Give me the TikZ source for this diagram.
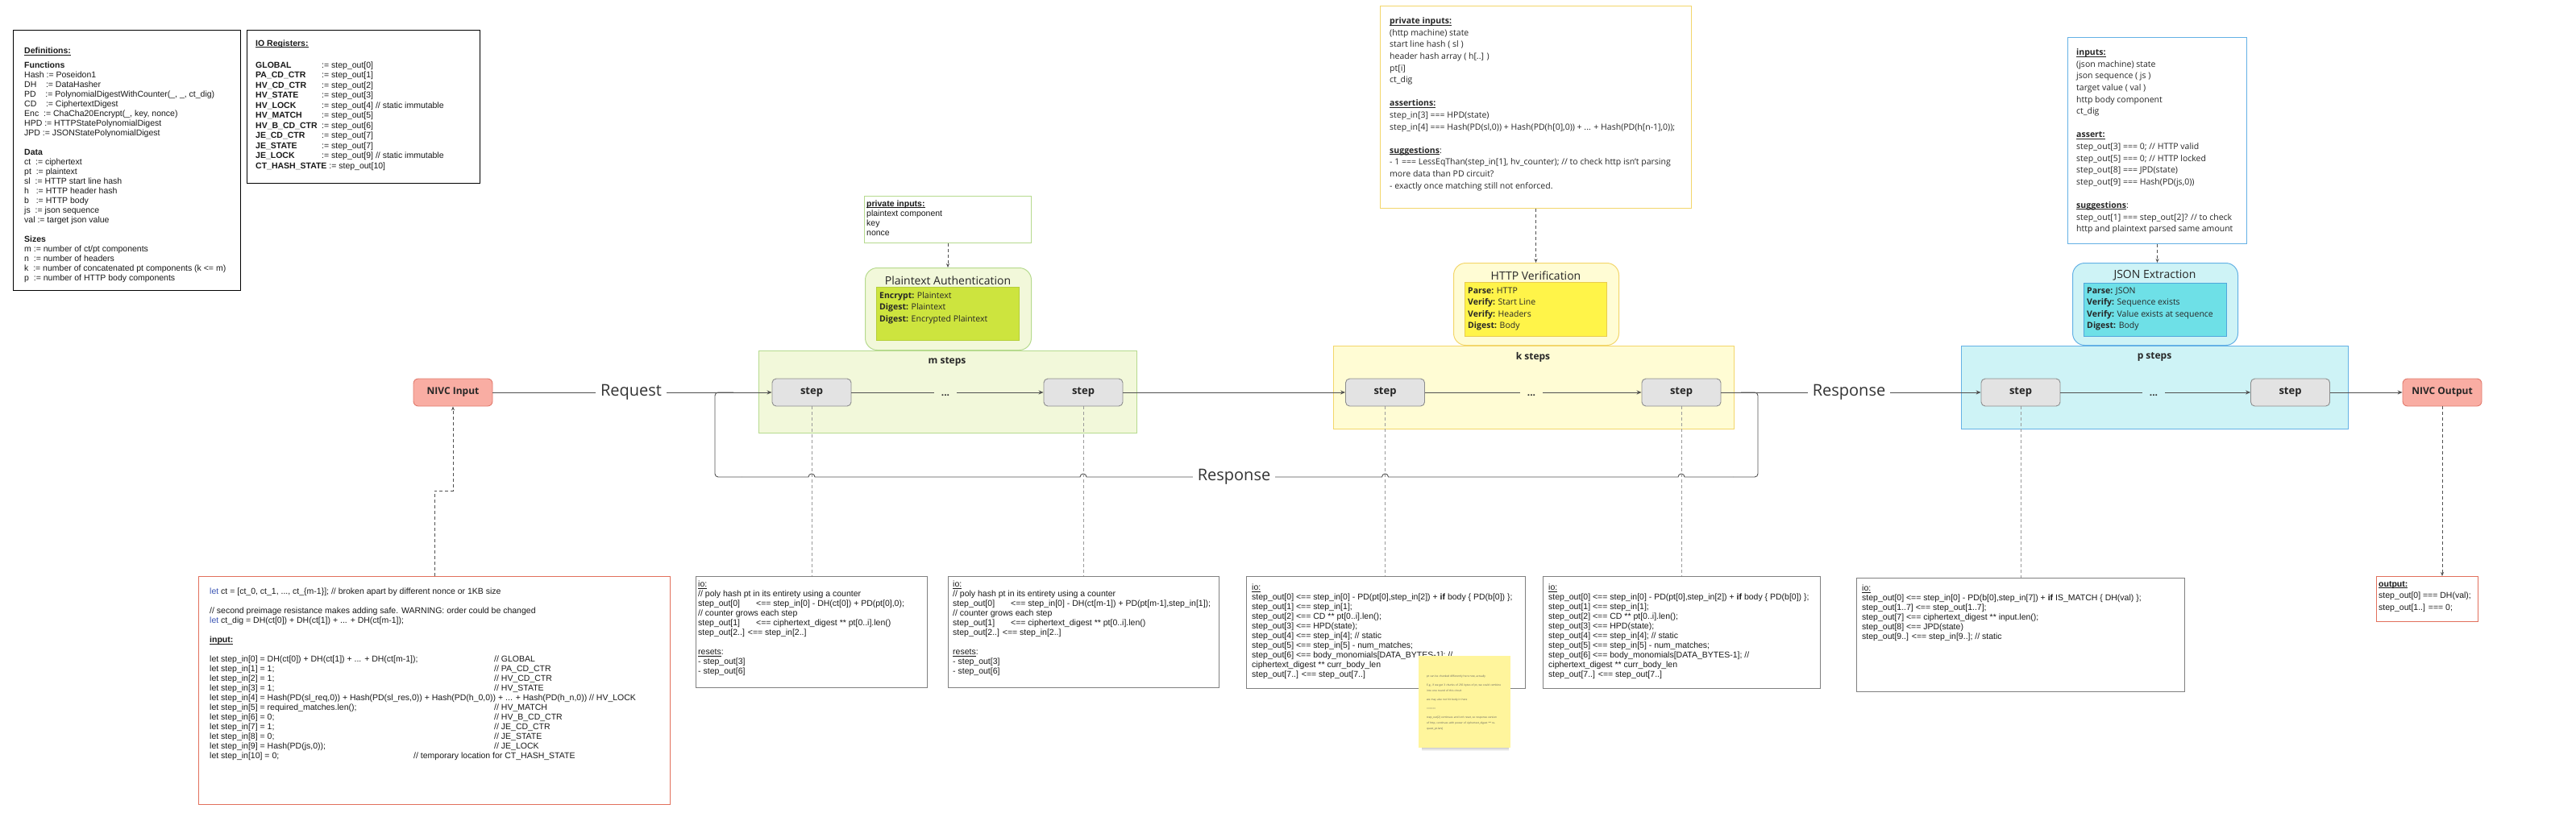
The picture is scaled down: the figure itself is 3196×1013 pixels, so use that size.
\documentclass[tikz,border=0pt]{standalone}
\usepackage{fontspec}
\setmainfont{Open Sans}
\newfontfamily\arialfont{Liberation Sans}
\usetikzlibrary{arrows.meta}

\definecolor{flowgray}{HTML}{505050}
\definecolor{dashgray}{HTML}{9A9A9A}
\definecolor{boxgray}{HTML}{808080}
\definecolor{redline}{HTML}{E2705C}
\definecolor{stepfill}{HTML}{E3E3E3}
\definecolor{stepline}{HTML}{8C8C8C}
\definecolor{nivcfill}{HTML}{F9ADA3}
\definecolor{nivcline}{HTML}{E27A6D}
\definecolor{paregion}{HTML}{F2F8DA}
\definecolor{paline}{HTML}{B6DA8E}
\definecolor{painner}{HTML}{CDE43E}
\definecolor{paedge}{HTML}{B5CF3A}
\definecolor{hvregion}{HTML}{FFFCD4}
\definecolor{hvline}{HTML}{F3D66B}
\definecolor{hvinner}{HTML}{FFF449}
\definecolor{hvedge}{HTML}{E9CC4C}
\definecolor{jeregion}{HTML}{CEF3F6}
\definecolor{jeline}{HTML}{64B1E5}
\definecolor{jeinner}{HTML}{6EE0E7}
\definecolor{jeedge}{HTML}{4FA7DC}
\definecolor{letblue}{HTML}{3B55B5}
\definecolor{notefill}{HTML}{FFF59C}

\newsavebox{\ulinebox}
\newcommand{\ulplain}[1]{\sbox{\ulinebox}{#1}\rlap{\rule[-1.5pt]{\wd\ulinebox}{0.6pt}}\usebox{\ulinebox}}
\newcommand{\uhead}[1]{\ulplain{\textbf{#1}}}
\newcommand{\ioreg}[2]{\makebox[82pt][l]{\textbf{#1}}:= #2}
\newcommand{\regline}[2]{\makebox[353pt][l]{#1}// #2}
\newcommand{\letkw}{\textcolor{letblue}{let}}
\newcommand{\httpio}{\ulplain{io:}\\
step\_out[0] <== step\_in[0] - PD(pt[0],step\_in[2]) + \textbf{if} body \{ PD(b[0]) \};\\
step\_out[1] <== step\_in[1];\\
step\_out[2] <== CD ** pt[0..i].len();\\
step\_out[3] <== HPD(state);\\
step\_out[4] <== step\_in[4]; // static\\
step\_out[5] <== step\_in[5] - num\_matches;\\
step\_out[6] <== body\_monomials[DATA\_BYTES-1]; //\\
ciphertext\_digest ** curr\_body\_len\\
step\_out[7..] <== step\_out[7..]}

\tikzset{
    notebox/.style={draw=#1, fill=white, anchor=north west, inner sep=0pt, line width=1pt},
    regionbox/.style={draw=#1line, fill=#1region, anchor=north west, inner sep=0pt, line width=1pt},
    modulebox/.style={draw=#1line, fill=#1region, anchor=north west, inner sep=0pt, line width=1pt, rounded corners=15pt},
    innerbox/.style={draw=#1edge, fill=#1inner, anchor=north west, inner sep=0pt, line width=0.8pt},
    arialtext/.style={anchor=north west, inner sep=0pt, align=left, text=black!90, font=\arialfont\fontsize{10.5}{12}\selectfont},
    opentext/.style={anchor=north west, inner sep=0pt, align=left, text=black!85, font=\fontsize{10.5}{14.6}\selectfont},
    innertext/.style={anchor=north west, inner sep=0pt, align=left, text=black!85, font=\fontsize{10.5}{14.5}\selectfont},
    moduletitle/.style={inner sep=0pt, text=black!85, font=\fontsize{14}{16}\selectfont},
    regionlabel/.style={inner sep=0pt, text=black!85, font=\bfseries\fontsize{12}{14}\selectfont},
    stepnode/.style={draw=stepline, fill=stepfill, rounded corners=5pt, line width=0.9pt, minimum width=98pt, minimum height=34pt, inner sep=0pt, text=black!85, font=\bfseries\fontsize{13}{15}\selectfont},
    nivcnode/.style={draw=nivcline, fill=nivcfill, rounded corners=6pt, line width=0.9pt, minimum width=98pt, minimum height=34pt, inner sep=0pt, text=black!85, font=\bfseries\fontsize{12}{14}\selectfont},
    flowlabel/.style={inner xsep=6pt, inner ysep=0pt, text=black!80, font=\fontsize{20}{24}\selectfont},
    dotsnode/.style={inner xsep=9pt, inner ysep=0pt, text height=8pt, text depth=0pt, text=black!80, font=\bfseries\fontsize{12}{14}\selectfont},
    flow/.style={draw=flowgray, line width=0.9pt},
    flowarrow/.style={flow, -{Stealth[length=6pt, width=5pt]}},
    dashlink/.style={draw=flowgray, line width=0.8pt, dash pattern=on 4pt off 3pt, -{Stealth[length=5pt, width=4pt]}},
    stepdash/.style={draw=dashgray, line width=0.9pt, dash pattern=on 4pt off 3pt}
}

\begin{document}
\begin{tikzpicture}[x=1pt, y=-1pt]
        \path[use as bounding box, fill=white] (0,0) rectangle (3196,1013);

        \node[notebox=black, minimum width=282pt, minimum height=323pt] (defs) at (16,37) {};
        \node[arialtext] (defstext) at (30,59) {\uhead{Definitions:}\\[6pt]
            \textbf{Functions}\\
            Hash := Poseidon1\\
            DH\ \ \ \ := DataHasher\\
            PD\ \ \ \ := PolynomialDigestWithCounter(\_, \_, ct\_dig)\\
            CD\ \ \ \ := CiphertextDigest\\
            Enc\ \ := ChaCha20Encrypt(\_, key, nonce)\\
            HPD := HTTPStatePolynomialDigest\\
            JPD := JSONStatePolynomialDigest\\[12pt]
            \textbf{Data}\\
            ct\ \ := ciphertext\\
            pt\ \ := plaintext\\
            sl\ \ := HTTP start line hash\\
            h\ \ \ := HTTP header hash\\
            b\ \ \ := HTTP body\\
            js\ \ := json sequence\\
            val := target json value\\[12pt]
            \textbf{Sizes}\\
            m := number of ct/pt components\\
            n\ \ := number of headers\\
            k\ \ := number of concatenated pt components (k <= m)\\
            p\ \ := number of HTTP body components};

        \node[notebox=black, minimum width=289pt, minimum height=190pt] (iobox) at (306,37) {};
        \node[arialtext, font=\arialfont\fontsize{10.5}{12.5}\selectfont] (iotext) at (317,49.5) {\uhead{IO Registers:}\\[14.5pt]
            \ioreg{GLOBAL}{step\_out[0]}\\
            \ioreg{PA\_CD\_CTR}{step\_out[1]}\\
            \ioreg{HV\_CD\_CTR}{step\_out[2]}\\
            \ioreg{HV\_STATE}{step\_out[3]}\\
            \ioreg{HV\_LOCK}{step\_out[4] // static immutable}\\
            \ioreg{HV\_MATCH}{step\_out[5]}\\
            \ioreg{HV\_B\_CD\_CTR}{step\_out[6]}\\
            \ioreg{JE\_CD\_CTR}{step\_out[7]}\\
            \ioreg{JE\_STATE}{step\_out[7]}\\
            \ioreg{JE\_LOCK}{step\_out[9] // static immutable}\\
            \textbf{CT\_HASH\_STATE}\ := step\_out[10]};

        \node[regionbox=pa, minimum width=469pt, minimum height=102pt] (mreg) at (941,435) {};
        \node[regionlabel] (mlabel) at (1175,449) {m steps};
        \node[regionbox=hv, minimum width=497pt, minimum height=103pt] (kreg) at (1654,429) {};
        \node[regionlabel] (klabel) at (1902,443) {k steps};
        \node[regionbox=je, minimum width=480pt, minimum height=103pt] (preg) at (2433,429) {};
        \node[regionlabel] (plabel) at (2673,443) {p steps};

        \node[notebox=paline, minimum width=207pt, minimum height=58pt] (ptin) at (1072,243) {};
        \node[arialtext] (ptintext) at (1075,248.5) {\uhead{private inputs:}\\ plaintext component\\ key\\ nonce};
        \node[modulebox=pa, minimum width=206pt, minimum height=102pt] (pamod) at (1073,332) {};
        \node[moduletitle] (patitle) at (1176,348) {Plaintext Authentication};
        \node[innerbox=pa, minimum width=177pt, minimum height=66pt] (painn) at (1087,356) {};
        \node[innertext] (paitext) at (1091,362) {\textbf{Encrypt:} Plaintext\\ \textbf{Digest:} Plaintext\\ \textbf{Digest:} Encrypted Plaintext};

        \node[notebox=hvline, minimum width=386pt, minimum height=251pt] (hvin) at (1712,7) {};
        \node[opentext] (hvintext) at (1724,21.5) {\uhead{private inputs:}\\
            (http machine) state\\
            start line hash ( sl )\\
            header hash array ( h[..] )\\
            pt[i]\\
            ct\_dig\\[14.6pt]
            \uhead{assertions:}\\
            step\_in[3] === HPD(state)\\
            step\_in[4] === Hash(PD(sl,0)) + Hash(PD(h[0],0)) + ... + Hash(PD(h[n-1],0));\\[14.6pt]
            \uhead{suggestions}:\\
            - 1 === LessEqThan(step\_in[1], hv\_counter); // to check http isn't parsing\\
            more data than PD circuit?\\
            - exactly once matching still not enforced.};
        \node[modulebox=hv, minimum width=205pt, minimum height=102pt] (hvmod) at (1803,326) {};
        \node[moduletitle] (hvtitle) at (1905.5,342) {HTTP Verification};
        \node[innerbox=hv, minimum width=176pt, minimum height=67pt] (hvinn) at (1817,350) {};
        \node[innertext] (hvitext) at (1821,356.5) {\textbf{Parse:} HTTP\\ \textbf{Verify:} Start Line\\ \textbf{Verify:} Headers\\ \textbf{Digest:} Body};

        \node[notebox=jeline, minimum width=222pt, minimum height=256pt] (jein) at (2565,46) {};
        \node[opentext] (jeintext) at (2576,60.5) {\uhead{inputs:}\\
            (json machine) state\\
            json sequence ( js )\\
            target value ( val )\\
            http body component\\
            ct\_dig\\[14.6pt]
            \uhead{assert:}\\
            step\_out[3] === 0; // HTTP valid\\
            step\_out[5] === 0; // HTTP locked\\
            step\_out[8] === JPD(state)\\
            step\_out[9] === Hash(PD(js,0))\\[14.6pt]
            \uhead{suggestions}:\\
            step\_out[1] === step\_out[2]? // to check\\
            http and plaintext parsed same amount};
        \node[modulebox=je, minimum width=205pt, minimum height=102pt] (jemod) at (2571,326) {};
        \node[moduletitle] (jetitle) at (2673.5,342) {JSON Extraction};
        \node[innerbox=je, minimum width=177pt, minimum height=66pt] (jeinn) at (2585,351) {};
        \node[innertext] (jeitext) at (2589,356.5) {\textbf{Parse:} JSON\\ \textbf{Verify:} Sequence exists\\ \textbf{Verify:} Value exists at sequence\\ \textbf{Digest:} Body};

        \draw[dashlink] (ptin.south) -- (ptin.south |- pamod.north);
        \draw[dashlink] (hvin.south) -- (hvin.south |- hvmod.north);
        \draw[dashlink] (jein.south) -- (jein.south |- jemod.north);

        \node[nivcnode] (nivcin) at (562,487) {NIVC Input};
        \node[stepnode] (ms1) at (1007,487) {step};
        \node[stepnode] (ms2) at (1344,487) {step};
        \node[stepnode] (ks1) at (1718.5,487) {step};
        \node[stepnode] (ks2) at (2086,487) {step};
        \node[stepnode] (ps1) at (2507,487) {step};
        \node[stepnode] (ps2) at (2841.5,487) {step};
        \node[nivcnode] (nivcout) at (3030,487) {NIVC Output};

        \node[flowlabel] (req) at (783,487) {Request};
        \node[flowlabel] (resp) at (2294,487) {Response};
        \node[dotsnode] (mdots) at (1173,487) {...};
        \node[dotsnode] (kdots) at (1900,487) {...};
        \node[dotsnode] (pdots) at (2672,487) {...};

        \draw[flow] (nivcin) -- (req);
        \draw[flowarrow] (req) -- (ms1);
        \draw[flow] (ms1) -- (mdots);
        \draw[flowarrow] (mdots) -- (ms2);
        \draw[flowarrow] (ms2) -- (ks1);
        \draw[flow] (ks1) -- (kdots);
        \draw[flowarrow] (kdots) -- (ks2);
        \draw[flow] (ks2) -- (resp);
        \draw[flowarrow] (resp) -- (ps1);
        \draw[flow] (ps1) -- (pdots);
        \draw[flowarrow] (pdots) -- (ps2);
        \draw[flowarrow] (ps2) -- (nivcout);

        \coordinate (kjoin) at (2181,487);
        \coordinate (loopse) at (2181,592);
        \coordinate (loopsw) at (887,592);
        \coordinate (mjoin) at (887,487);
        \draw[flow, rounded corners=4pt] (2160,487) -- (kjoin) -- (loopse) -- (2150,592);
        \draw[flow] (2150,592) -- (2090,592) arc[start angle=0, end angle=180, radius=4pt] -- (1722.5,592) arc[start angle=0, end angle=180, radius=4pt] -- (1348,592) arc[start angle=0, end angle=180, radius=4pt] -- (1011,592) arc[start angle=0, end angle=180, radius=4pt] -- (920,592);
        \draw[flow, rounded corners=4pt] (920,592) -- (loopsw) -- (mjoin) -- (910,487);
        \node[flowlabel, fill=white] (resploop) at (1531,592) {Response};

        \node[notebox=redline, minimum width=585pt, minimum height=283pt] (inbox) at (246,715) {};
        \node[arialtext] (inboxtext) at (260,730) {\letkw{} ct = [ct\_0, ct\_1, ..., ct\_\{m-1\}]; // broken apart by different nonce or 1KB size\\[12pt]
            // second preimage resistance makes adding safe. WARNING: order could be changed\\
            \letkw{} ct\_dig = DH(ct[0]) + DH(ct[1]) + ... + DH(ct[m-1]);\\[12pt]
            \uhead{input:}\\[12pt]
            \regline{let step\_in[0] = DH(ct[0]) + DH(ct[1]) + ... + DH(ct[m-1]);}{GLOBAL}\\
            \regline{let step\_in[1] = 1;}{PA\_CD\_CTR}\\
            \regline{let step\_in[2] = 1;}{HV\_CD\_CTR}\\
            \regline{let step\_in[3] = 1;}{HV\_STATE}\\
            let step\_in[4] = Hash(PD(sl\_req,0)) + Hash(PD(sl\_res,0)) + Hash(PD(h\_0,0)) + ... + Hash(PD(h\_n,0)) // HV\_LOCK\\
            \regline{let step\_in[5] = required\_matches.len();}{HV\_MATCH}\\
            \regline{let step\_in[6] = 0;}{HV\_B\_CD\_CTR}\\
            \regline{let step\_in[7] = 1;}{JE\_CD\_CTR}\\
            \regline{let step\_in[8] = 0;}{JE\_STATE}\\
            \regline{let step\_in[9] = Hash(PD(js,0));}{JE\_LOCK}\\
            \makebox[253pt][l]{let step\_in[10] = 0;}// temporary location for CT\_HASH\_STATE};

        \node[notebox=boxgray, minimum width=287pt, minimum height=138pt] (mbox1) at (863,715) {};
        \node[arialtext] (mbox1text) at (866,721) {\ulplain{io:}\\
            // poly hash pt in its entirety using a counter\\
            step\_out[0]\hspace{20pt}<== step\_in[0] - DH(ct[0]) + PD(pt[0],0);\\
            // counter grows each step\\
            step\_out[1]\hspace{20pt}<== ciphertext\_digest ** pt[0..i].len()\\
            step\_out[2..] <== step\_in[2..]\\[12pt]
            \ulplain{resets}:\\
            - step\_out[3]\\
            - step\_out[6]};
        \node[notebox=boxgray, minimum width=336pt, minimum height=138pt] (mbox2) at (1176,715) {};
        \node[arialtext] (mbox2text) at (1182,721) {\ulplain{io:}\\
            // poly hash pt in its entirety using a counter\\
            step\_out[0]\hspace{20pt}<== step\_in[0] - DH(ct[m-1]) + PD(pt[m-1],step\_in[1]);\\
            // counter grows each step\\
            step\_out[1]\hspace{20pt}<== ciphertext\_digest ** pt[0..i].len()\\
            step\_out[2..] <== step\_in[2..]\\[12pt]
            \ulplain{resets}:\\
            - step\_out[3]\\
            - step\_out[6]};

        \node[notebox=boxgray, minimum width=346pt, minimum height=139pt] (hbox1) at (1546,715) {};
        \node[arialtext] (hbox1text) at (1553,725) {\httpio};
        \node[notebox=boxgray, minimum width=344pt, minimum height=139pt] (hbox2) at (1914,715) {};
        \node[arialtext] (hbox2text) at (1921,725) {\httpio};

        \node[notebox=boxgray, minimum width=407pt, minimum height=141pt] (jbox) at (2303,717) {};
        \node[arialtext] (jboxtext) at (2310,726) {\ulplain{io:}\\
            step\_out[0] <== step\_in[0] - PD(b[0],step\_in[7]) + \textbf{if} IS\_MATCH \{ DH(val) \};\\
            step\_out[1..7] <== step\_out[1..7];\\
            step\_out[7] <== ciphertext\_digest ** input.len();\\
            step\_out[8] <== JPD(state)\\
            step\_out[9..] <== step\_in[9..]; // static};

        \node[notebox=redline, minimum width=126pt, minimum height=56pt] (outbox) at (2948,715) {};
        \node[arialtext, font=\arialfont\fontsize{10.5}{14.5}\selectfont] (outboxtext) at (2951,721) {\uhead{output:}\\ step\_out[0] === DH(val);\\ step\_out[1..] === 0;};

        \draw[stepdash] (ms1.south) -- (ms1.south |- mbox1.north);
        \draw[stepdash] (ms2.south) -- (ms2.south |- mbox2.north);
        \draw[stepdash] (ks1.south) -- (ks1.south |- hbox1.north);
        \draw[stepdash] (ks2.south) -- (ks2.south |- hbox2.north);
        \draw[stepdash] (ps1.south) -- (ps1.south |- jbox.north);
        \draw[dashlink] (inbox.north) -- ++(0,-106) -| (nivcin.south);
        \draw[dashlink] (nivcout.south) -- (nivcout.south |- outbox.north);

        \shade[top color=black!55, bottom color=white] (1764,920) rectangle (1872,932);
        \node[anchor=north west, fill=notefill, minimum width=114pt, minimum height=114pt, inner sep=0pt] (sticky) at (1760,814) {};
        \node[anchor=north west, text width=96pt, align=left, inner sep=0pt, text=black!65, font=\fontsize{3.2}{7}\selectfont] (stickytext) at (1770,838) {pt can be chunked differently here now, actually\\[4pt]
            E.g., if we get 3 chunks of 256 bytes of pt, we could combine into one round of this circuit\\[4pt]
            we may also not hit body in here\\[4pt]
            ======\\[4pt]
            step\_out[2] continues and isn't reset, so response version of http, continues with power of ciphertext\_digest ** request\_pt.len()};
\end{tikzpicture}
\end{document}
